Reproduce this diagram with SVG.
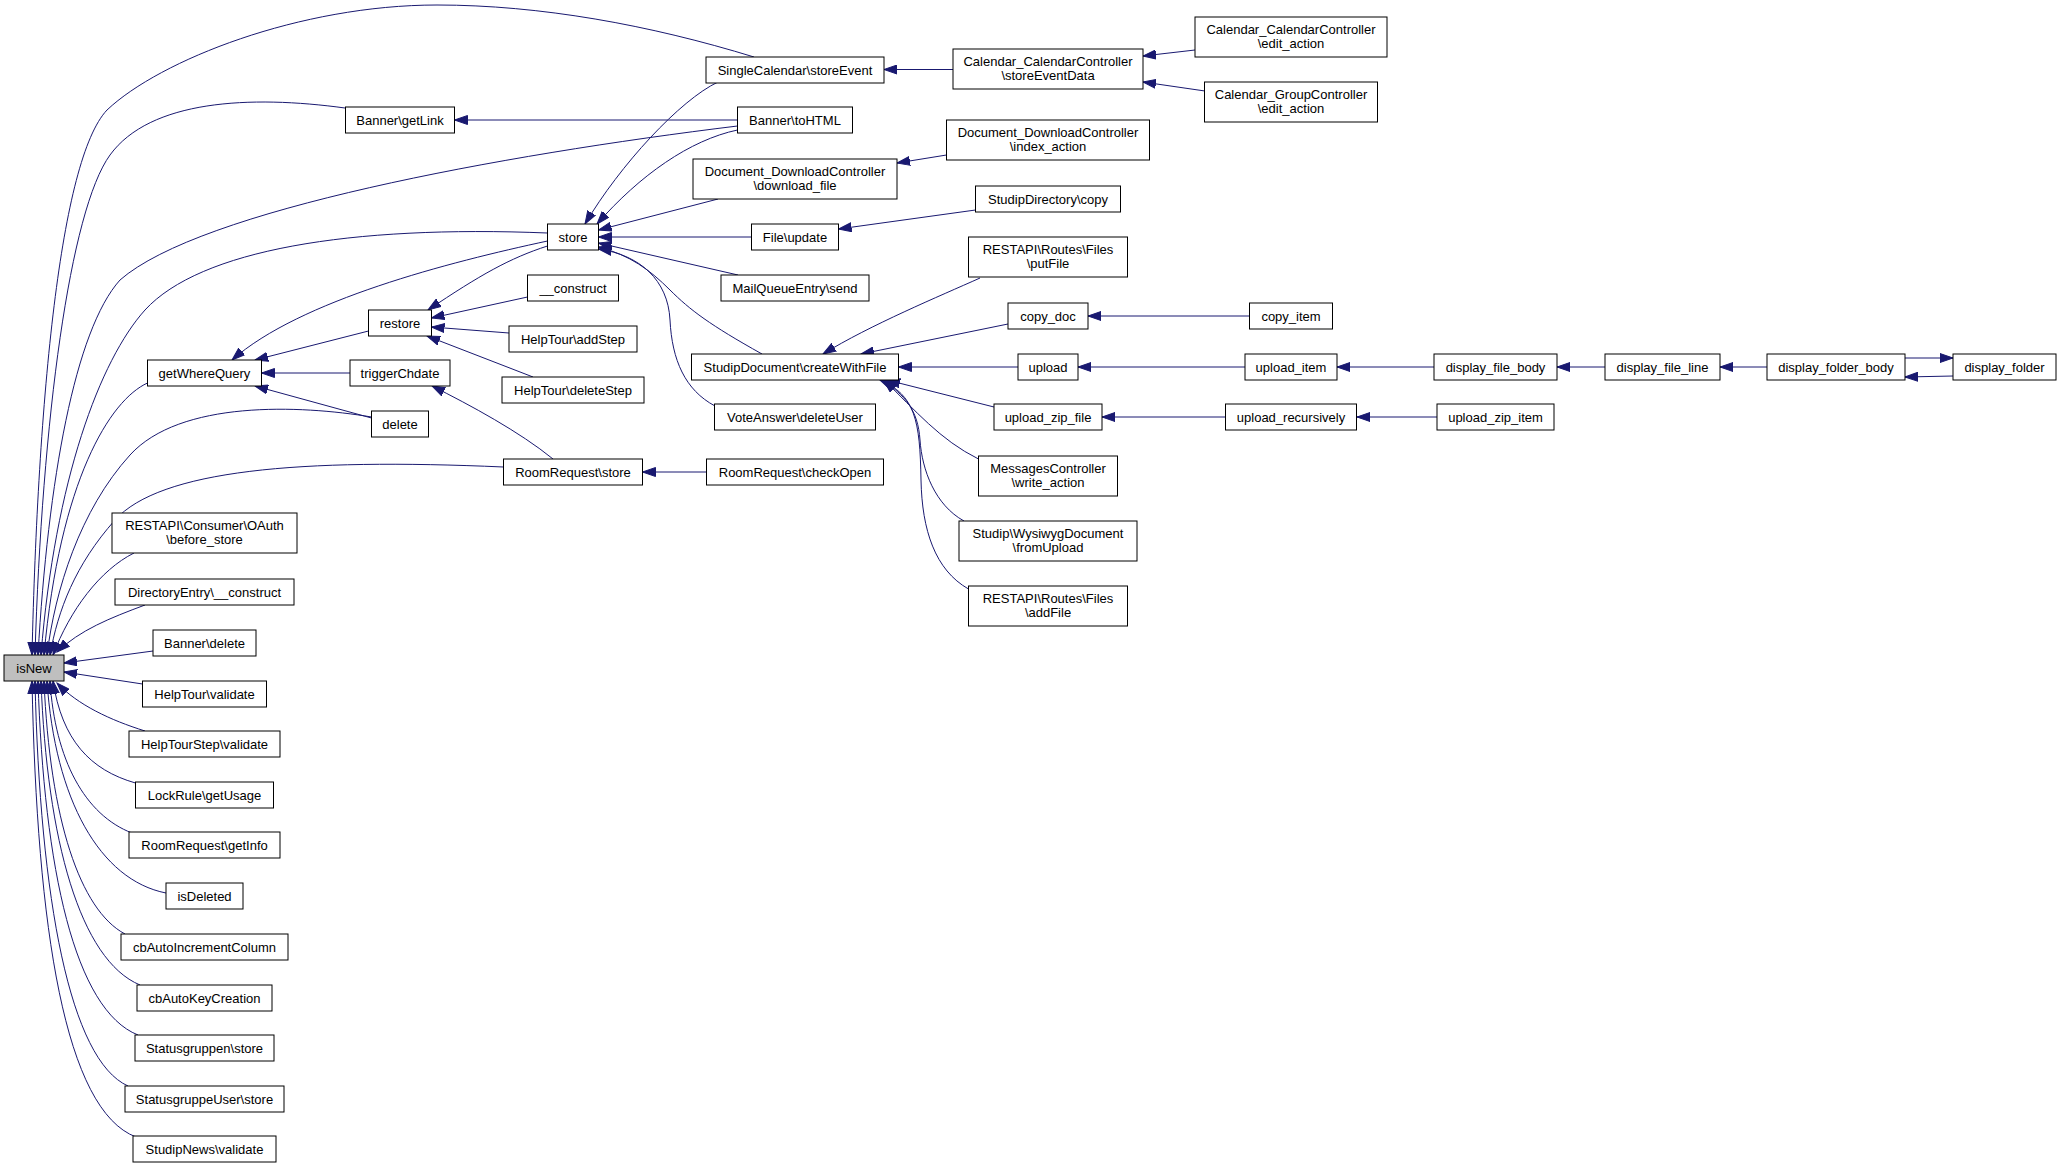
<svg xmlns="http://www.w3.org/2000/svg" width="2061" height="1168" viewBox="0 0 2061 1168">
<style>
.n rect{fill:#fff;stroke:#000;stroke-width:1}
.n text{font-family:"Liberation Sans",Arial,Helvetica,sans-serif;font-size:13px;text-anchor:middle;fill:#000}
.e path{fill:none;stroke:#191970;stroke-width:1}
</style>
<defs>
<marker id="ah" markerWidth="14" markerHeight="10" refX="13" refY="5" orient="auto" markerUnits="userSpaceOnUse">
<path d="M0,0.5 L13,5 L0,9.5 z" fill="#191970" stroke="#191970" stroke-width="1"/>
</marker>
</defs>
<rect x="0" y="0" width="2061" height="1168" fill="#fff"/>
<g id="edges" class="e" marker-end="url(#ah)">
<path marker-end="url(#ah)" d="M754,57 C650,25 540,5 437,5 C300,5 160,60 107,110 C60,160 38,400 32,655"/>
<path marker-end="url(#ah)" d="M345,108 C250,95 150,100 110,155 C70,210 42,420 35,655"/>
<path marker-end="url(#ah)" d="M737.5,126 C500,155 200,210 120,280 C75,330 48,480 38,655"/>
<path marker-end="url(#ah)" d="M547.5,233 C350,225 200,250 145,310 C100,360 55,480 41,655"/>
<path marker-end="url(#ah)" d="M147.5,383 C110,400 60,480 44,655"/>
<path marker-end="url(#ah)" d="M371.5,417 C300,405 180,400 130,455 C80,510 55,590 47,655"/>
<path marker-end="url(#ah)" d="M503.5,467 C300,458 160,470 115,520 C75,565 58,610 50,655"/>
<path marker-end="url(#ah)" d="M134,553 C100,570 70,610 53,655"/>
<path marker-end="url(#ah)" d="M145,605 C110,618 80,630 57,652"/>
<path marker-end="url(#ah)" d="M153,651 L64,663"/>
<path marker-end="url(#ah)" d="M142.5,684 L64,672"/>
<path marker-end="url(#ah)" d="M145,731 C110,720 78,705 57,683"/>
<path marker-end="url(#ah)" d="M135.5,783 C90,770 62,740 53,681"/>
<path marker-end="url(#ah)" d="M132,833 C85,815 55,760 50,681"/>
<path marker-end="url(#ah)" d="M166,893 C100,880 55,800 47,681"/>
<path marker-end="url(#ah)" d="M125,934 C80,910 50,820 44,681"/>
<path marker-end="url(#ah)" d="M140,985 C80,960 47,840 41,681"/>
<path marker-end="url(#ah)" d="M138,1035 C75,1010 44,870 38,681"/>
<path marker-end="url(#ah)" d="M128,1086 C70,1060 40,900 35,681"/>
<path marker-end="url(#ah)" d="M136,1137 C65,1110 37,930 32,681"/>
<path marker-end="url(#ah)" d="M737.5,120 L454.5,120"/>
<path marker-end="url(#ah)" d="M547.5,241 C450,262 300,300 232,360"/>
<path marker-end="url(#ah)" d="M368.5,331 L255,360"/>
<path marker-end="url(#ah)" d="M350,373 L261.5,373"/>
<path marker-end="url(#ah)" d="M371.5,418 L255,386"/>
<path marker-end="url(#ah)" d="M547.5,246 C510,258 480,275 428,310"/>
<path marker-end="url(#ah)" d="M527.5,297 L431.5,318"/>
<path marker-end="url(#ah)" d="M509,333 L431.5,327"/>
<path marker-end="url(#ah)" d="M533,377 L427,336"/>
<path marker-end="url(#ah)" d="M553,459 C520,432 470,405 432,386"/>
<path marker-end="url(#ah)" d="M706.5,472 L642.5,472"/>
<path marker-end="url(#ah)" d="M718,82 C680,100 620,165 585,224"/>
<path marker-end="url(#ah)" d="M737.5,130 C690,140 640,175 597,224"/>
<path marker-end="url(#ah)" d="M718,199 L598.5,230"/>
<path marker-end="url(#ah)" d="M751.5,237 L598.5,237"/>
<path marker-end="url(#ah)" d="M738,275 L598.5,243"/>
<path marker-end="url(#ah)" d="M762,354 C710,325 690,310 670,290 C650,270 630,255 598.5,247"/>
<path marker-end="url(#ah)" d="M715,406 C685,390 672,360 670,320 C668,280 640,255 598.5,249"/>
<path marker-end="url(#ah)" d="M953,69.5 L884,69.5"/>
<path marker-end="url(#ah)" d="M1195,50 L1143,56"/>
<path marker-end="url(#ah)" d="M1205,91 L1143,82"/>
<path marker-end="url(#ah)" d="M946.5,155 L897,163"/>
<path marker-end="url(#ah)" d="M975.5,210 L838.5,229"/>
<path marker-end="url(#ah)" d="M980,278 C940,296 870,325 823,354"/>
<path marker-end="url(#ah)" d="M1008,324 L861,354"/>
<path marker-end="url(#ah)" d="M1018,367 L898.5,367"/>
<path marker-end="url(#ah)" d="M994,407 L887,380"/>
<path marker-end="url(#ah)" d="M978.5,459 C940,440 915,410 884,380"/>
<path marker-end="url(#ah)" d="M964,521 C935,505 922,470 920,440 C918,410 905,395 882,380"/>
<path marker-end="url(#ah)" d="M968.5,589 C935,570 922,530 921,480 C920,420 915,395 880,380"/>
<path marker-end="url(#ah)" d="M1249.5,316 L1088,316"/>
<path marker-end="url(#ah)" d="M1245,367 L1078,367"/>
<path marker-end="url(#ah)" d="M1225.5,417 L1102,417"/>
<path marker-end="url(#ah)" d="M1434,367 L1337,367"/>
<path marker-end="url(#ah)" d="M1437,417 L1357,417"/>
<path marker-end="url(#ah)" d="M1605,367 L1557,367"/>
<path marker-end="url(#ah)" d="M1767,367 L1720,367"/>
<path marker-end="url(#ah)" d="M1905,358 L1953,358"/>
<path marker-end="url(#ah)" d="M1953,376 L1905,377"/>
</g>
<g id="n_isNew" class="n"><rect x="4" y="655" width="60" height="26" style="fill:#bfbfbf"/><text x="34" y="672.5">isNew</text></g>
<g id="n_getWhereQuery" class="n"><rect x="147.5" y="360" width="114" height="26"/><text x="204.5" y="377.5">getWhereQuery</text></g>
<g id="n_oauth" class="n"><rect x="112" y="513" width="185" height="40"/><text x="204.5" y="530">RESTAPI\Consumer\OAuth</text><text x="204.5" y="544">\before_store</text></g>
<g id="n_direntry" class="n"><rect x="115" y="579" width="179" height="26"/><text x="204.5" y="596.5">DirectoryEntry\__construct</text></g>
<g id="n_bannerdelete" class="n"><rect x="153" y="630" width="103" height="26"/><text x="204.5" y="647.5">Banner\delete</text></g>
<g id="n_helptourvalidate" class="n"><rect x="142.5" y="681" width="124" height="26"/><text x="204.5" y="698.5">HelpTour\validate</text></g>
<g id="n_helptourstepvalidate" class="n"><rect x="129" y="731" width="151" height="26"/><text x="204.5" y="748.5">HelpTourStep\validate</text></g>
<g id="n_lockrule" class="n"><rect x="135.5" y="782" width="138" height="26"/><text x="204.5" y="799.5">LockRule\getUsage</text></g>
<g id="n_getinfo" class="n"><rect x="129" y="832" width="151" height="26"/><text x="204.5" y="849.5">RoomRequest\getInfo</text></g>
<g id="n_isdeleted" class="n"><rect x="166" y="883" width="77" height="26"/><text x="204.5" y="900.5">isDeleted</text></g>
<g id="n_cbautoinc" class="n"><rect x="121" y="934" width="167" height="26"/><text x="204.5" y="951.5">cbAutoIncrementColumn</text></g>
<g id="n_cbautokey" class="n"><rect x="137" y="985" width="135" height="26"/><text x="204.5" y="1002.5">cbAutoKeyCreation</text></g>
<g id="n_statusgruppen" class="n"><rect x="135" y="1035" width="139" height="26"/><text x="204.5" y="1052.5">Statusgruppen\store</text></g>
<g id="n_statusgruppeuser" class="n"><rect x="125" y="1086" width="159" height="26"/><text x="204.5" y="1103.5">StatusgruppeUser\store</text></g>
<g id="n_studipnews" class="n"><rect x="133" y="1136" width="143" height="26"/><text x="204.5" y="1153.5">StudipNews\validate</text></g>
<g id="n_getlink" class="n"><rect x="345.5" y="107" width="109" height="26"/><text x="400" y="124.5">Banner\getLink</text></g>
<g id="n_restore" class="n"><rect x="368.5" y="310" width="63" height="26"/><text x="400" y="327.5">restore</text></g>
<g id="n_triggerchdate" class="n"><rect x="350" y="360" width="100" height="26"/><text x="400" y="377.5">triggerChdate</text></g>
<g id="n_delete" class="n"><rect x="371.5" y="411" width="57" height="26"/><text x="400" y="428.5">delete</text></g>
<g id="n_store" class="n"><rect x="547.5" y="224" width="51" height="26"/><text x="573" y="241.5">store</text></g>
<g id="n_construct" class="n"><rect x="527.5" y="275" width="91" height="26"/><text x="573" y="292.5">__construct</text></g>
<g id="n_addstep" class="n"><rect x="509" y="326" width="128" height="26"/><text x="573" y="343.5">HelpTour\addStep</text></g>
<g id="n_deletestep" class="n"><rect x="502" y="377" width="142" height="26"/><text x="573" y="394.5">HelpTour\deleteStep</text></g>
<g id="n_roomrequeststore" class="n"><rect x="503.5" y="459" width="139" height="26"/><text x="573" y="476.5">RoomRequest\store</text></g>
<g id="n_storeevent" class="n"><rect x="706" y="57" width="178" height="26"/><text x="795" y="74.5">SingleCalendar\storeEvent</text></g>
<g id="n_tohtml" class="n"><rect x="737.5" y="107" width="115" height="26"/><text x="795" y="124.5">Banner\toHTML</text></g>
<g id="n_downloadfile" class="n"><rect x="693" y="159" width="204" height="40"/><text x="795" y="176">Document_DownloadController</text><text x="795" y="190">\download_file</text></g>
<g id="n_fileupdate" class="n"><rect x="751.5" y="224" width="87" height="26"/><text x="795" y="241.5">File\update</text></g>
<g id="n_mailqueue" class="n"><rect x="721" y="275" width="148" height="26"/><text x="795" y="292.5">MailQueueEntry\send</text></g>
<g id="n_createwithfile" class="n"><rect x="691.5" y="354" width="207" height="26"/><text x="795" y="371.5">StudipDocument\createWithFile</text></g>
<g id="n_voteanswer" class="n"><rect x="714.5" y="404" width="161" height="26"/><text x="795" y="421.5">VoteAnswer\deleteUser</text></g>
<g id="n_checkopen" class="n"><rect x="706.5" y="459" width="177" height="26"/><text x="795" y="476.5">RoomRequest\checkOpen</text></g>
<g id="n_storeeventdata" class="n"><rect x="953" y="49" width="190" height="40"/><text x="1048" y="66">Calendar_CalendarController</text><text x="1048" y="80">\storeEventData</text></g>
<g id="n_indexaction" class="n"><rect x="946.5" y="120" width="203" height="40"/><text x="1048" y="137">Document_DownloadController</text><text x="1048" y="151">\index_action</text></g>
<g id="n_dircopy" class="n"><rect x="975.5" y="186" width="145" height="26"/><text x="1048" y="203.5">StudipDirectory\copy</text></g>
<g id="n_putfile" class="n"><rect x="968.5" y="237" width="159" height="40"/><text x="1048" y="254">RESTAPI\Routes\Files</text><text x="1048" y="268">\putFile</text></g>
<g id="n_copydoc" class="n"><rect x="1008" y="303" width="80" height="26"/><text x="1048" y="320.5">copy_doc</text></g>
<g id="n_upload" class="n"><rect x="1018" y="354" width="60" height="26"/><text x="1048" y="371.5">upload</text></g>
<g id="n_uploadzipfile" class="n"><rect x="994" y="404" width="108" height="26"/><text x="1048" y="421.5">upload_zip_file</text></g>
<g id="n_writeaction" class="n"><rect x="978.5" y="456" width="139" height="40"/><text x="1048" y="473">MessagesController</text><text x="1048" y="487">\write_action</text></g>
<g id="n_fromupload" class="n"><rect x="959" y="521" width="178" height="40"/><text x="1048" y="538">Studip\WysiwygDocument</text><text x="1048" y="552">\fromUpload</text></g>
<g id="n_addfile" class="n"><rect x="968.5" y="586" width="159" height="40"/><text x="1048" y="603">RESTAPI\Routes\Files</text><text x="1048" y="617">\addFile</text></g>
<g id="n_caleditaction" class="n"><rect x="1195" y="17" width="192" height="40"/><text x="1291" y="34">Calendar_CalendarController</text><text x="1291" y="48">\edit_action</text></g>
<g id="n_groupeditaction" class="n"><rect x="1204.5" y="82" width="173" height="40"/><text x="1291" y="99">Calendar_GroupController</text><text x="1291" y="113">\edit_action</text></g>
<g id="n_copyitem" class="n"><rect x="1249.5" y="303" width="83" height="26"/><text x="1291" y="320.5">copy_item</text></g>
<g id="n_uploaditem" class="n"><rect x="1245" y="354" width="92" height="26"/><text x="1291" y="371.5">upload_item</text></g>
<g id="n_uploadrecursively" class="n"><rect x="1225.5" y="404" width="131" height="26"/><text x="1291" y="421.5">upload_recursively</text></g>
<g id="n_displayfilebody" class="n"><rect x="1434" y="354" width="123" height="26"/><text x="1495.5" y="371.5">display_file_body</text></g>
<g id="n_uploadzipitem" class="n"><rect x="1437" y="404" width="117" height="26"/><text x="1495.5" y="421.5">upload_zip_item</text></g>
<g id="n_displayfileline" class="n"><rect x="1605" y="354" width="115" height="26"/><text x="1662.5" y="371.5">display_file_line</text></g>
<g id="n_displayfolderbody" class="n"><rect x="1767" y="354" width="138" height="26"/><text x="1836" y="371.5">display_folder_body</text></g>
<g id="n_displayfolder" class="n"><rect x="1953" y="354" width="103" height="26"/><text x="2004.5" y="371.5">display_folder</text></g>
</svg>
